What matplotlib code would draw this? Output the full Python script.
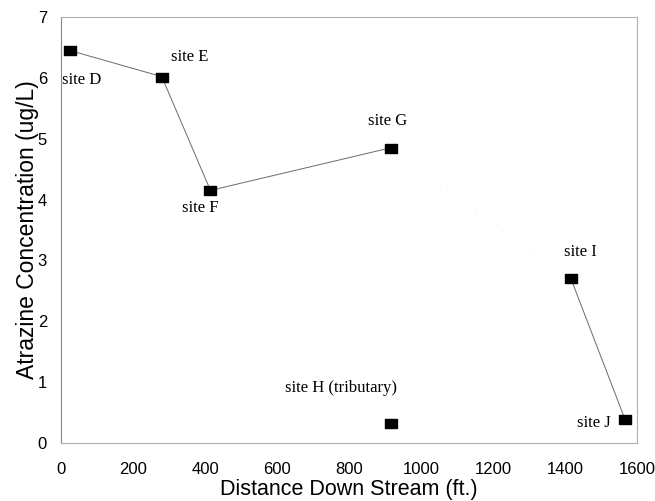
import matplotlib
matplotlib.use("Agg")
import matplotlib.pyplot as plt
from matplotlib.path import Path

# Data
sites = ["site D", "site E", "site F", "site G", "site H (tributary)", "site I", "site J"]
distance = [25, 280, 415, 915, 915, 1415, 1565]
atrazine = [6.45, 6.02, 4.15, 4.85, 0.33, 2.71, 0.40]

main_idx = [0, 1, 2, 3]      # D-E-F-G connected
faint_idx = [3, 5]           # G-I faint link
lower_idx = [5, 6]           # I-J

xticks = [0, 200, 400, 600, 800, 1000, 1200, 1400, 1600]
yticks = [0, 1, 2, 3, 4, 5, 6, 7]

fig = plt.figure(figsize=(6.55, 5.01), dpi=100)
ax = fig.add_axes([0.093, 0.116, 0.880, 0.850])

def sub(idx, arr):
    return [arr[i] for i in idx]

rect_marker = Path([(-1, -0.72), (1, -0.72), (1, 0.72), (-1, 0.72), (-1, -0.72)],
                   [Path.MOVETO, Path.LINETO, Path.LINETO, Path.LINETO, Path.CLOSEPOLY])

ax.plot(sub(main_idx, distance), sub(main_idx, atrazine), color="#6a6a6a", lw=0.7, zorder=2)
ax.plot(sub(faint_idx, distance), sub(faint_idx, atrazine), color="#e6e6e6", lw=0.7, ls=(0, (1, 8)), zorder=1)
ax.plot(sub(lower_idx, distance), sub(lower_idx, atrazine), color="#6a6a6a", lw=0.7, zorder=2)
ax.plot(distance, atrazine, ls="none", marker=rect_marker, markersize=9, color="black", zorder=3)

# Site labels (offsets in points)
offsets = {
    "site D": (-6, -21, "left"),
    "site E": (20, 14, "center"),
    "site F": (-7, -13, "center"),
    "site G": (-2, 19, "center"),
    "site H (tributary)": (-36, 25, "center"),
    "site I": (7, 19, "center"),
    "site J": (-22, -3, "center"),
}
for name, x, y in zip(sites, distance, atrazine):
    dx, dy, ha = offsets[name]
    ax.annotate(name, (x, y), xytext=(dx, dy), textcoords="offset points",
                ha=ha, va="center", fontsize=12, family="Liberation Serif", color="black")

ax.set_xlim(0, 1600)
ax.set_ylim(0, 7)
ax.set_xticks(xticks)
ax.set_yticks(yticks)
ax.tick_params(length=0, labelsize=12)
ax.tick_params(axis="x", pad=14)
ax.tick_params(axis="y", pad=10)
for lab in ax.get_xticklabels() + ax.get_yticklabels():
    lab.set_family("Liberation Sans")

for s in ax.spines.values():
    s.set_color("#b0b0b0")
    s.set_linewidth(0.8)
ax.spines["left"].set_color("#888888")

ax.set_xlabel("Distance Down Stream (ft.)", fontsize=15.5, family="Liberation Sans", labelpad=1.5)
ax.set_ylabel("Atrazine Concentration (ug/L)", fontsize=16.5, family="Liberation Sans", labelpad=-1)

fig.savefig("out.png", dpi=100)
